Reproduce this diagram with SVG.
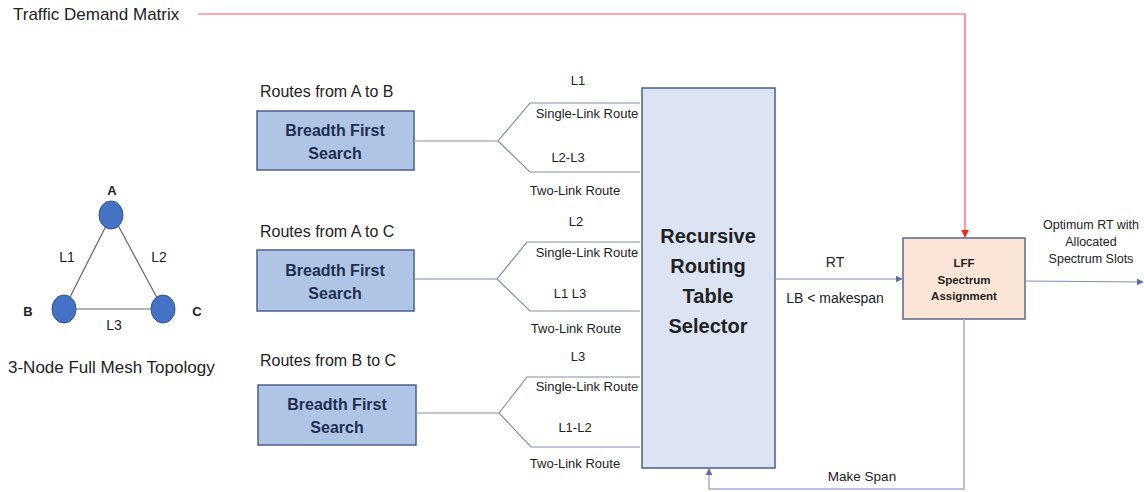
<svg xmlns="http://www.w3.org/2000/svg" width="1144" height="492" viewBox="0 0 1144 492">
<style>
text{font-family:"Liberation Sans",Arial,sans-serif;fill:#222}
.t15{font-size:16px}
.lbl{font-size:13px;text-anchor:middle}
.bfs{fill:#b0c4e6;stroke:#4a5f8c;stroke-width:1.5}
.bfst{font-size:16px;font-weight:bold;text-anchor:middle;fill:#1f2f4f}
.br{fill:none;stroke:#8090b0;stroke-width:1.2}
.node{fill:#4472c4;stroke:#2f5597;stroke-width:1}
.edge{stroke:#666;stroke-width:1.2}
</style>
<defs>
<marker id="ab" viewBox="0 0 10 10" refX="9" refY="5" markerWidth="7" markerHeight="7" orient="auto" markerUnits="userSpaceOnUse"><path d="M0,0L10,5L0,10z" fill="#5a6fa0"/></marker>
<marker id="ar" viewBox="0 0 10 10" refX="9" refY="5" markerWidth="8" markerHeight="8" orient="auto" markerUnits="userSpaceOnUse"><path d="M0,0L10,5L0,10z" fill="#ff2020"/></marker>
</defs>
<rect width="1144" height="492" fill="#fff"/>

<g id="traffic">
<text x="13" y="20" font-size="17">Traffic Demand Matrix</text>
</g>

<g id="topology">
<line x1="112" y1="214" x2="64" y2="309" class="edge"/>
<line x1="112" y1="214" x2="163" y2="309" class="edge"/>
<line x1="64" y1="309" x2="163" y2="309" class="edge"/>
<ellipse cx="111" cy="215" rx="12" ry="14" class="node"/>
<ellipse cx="64" cy="309" rx="12" ry="14" class="node"/>
<ellipse cx="163" cy="309" rx="12" ry="14" class="node"/>
<text x="112" y="195" font-size="13" font-weight="bold" text-anchor="middle">A</text>
<text x="28" y="316" font-size="13" font-weight="bold" text-anchor="middle">B</text>
<text x="197" y="316" font-size="13" font-weight="bold" text-anchor="middle">C</text>
<text x="67" y="262" font-size="14" text-anchor="middle">L1</text>
<text x="159" y="262" font-size="14" text-anchor="middle">L2</text>
<text x="114" y="330" font-size="14" text-anchor="middle">L3</text>
<text x="8" y="373" font-size="17">3-Node Full Mesh Topology</text>
</g>

<g id="bfs1">
<text x="260" y="97" class="t15">Routes from A to B</text>
<rect x="257" y="111" width="157" height="59" class="bfs"/>
<text x="335" y="136" class="bfst">Breadth First</text>
<text x="335" y="159" class="bfst">Search</text>
</g>
<g id="bfs2">
<text x="260" y="237" class="t15">Routes from A to C</text>
<rect x="257" y="250" width="157" height="61" class="bfs"/>
<text x="335" y="276" class="bfst">Breadth First</text>
<text x="335" y="299" class="bfst">Search</text>
</g>
<g id="bfs3">
<text x="260" y="366" class="t15">Routes from B to C</text>
<rect x="258" y="385" width="158" height="60" class="bfs"/>
<text x="337" y="410" class="bfst">Breadth First</text>
<text x="337" y="433" class="bfst">Search</text>
</g>

<g id="rrts">
<rect x="642" y="88" width="133" height="380" fill="#dce4f4" stroke="#4a5f8c" stroke-width="1.5"/>
<text x="708" y="243" font-size="20" font-weight="bold" text-anchor="middle" fill="#111">Recursive</text>
<text x="708" y="273" font-size="20" font-weight="bold" text-anchor="middle" fill="#111">Routing</text>
<text x="708" y="303" font-size="20" font-weight="bold" text-anchor="middle" fill="#111">Table</text>
<text x="708" y="333" font-size="20" font-weight="bold" text-anchor="middle" fill="#111">Selector</text>
</g>

<g id="lff">
<rect x="903" y="238" width="122" height="81" fill="#fbe5d6" stroke="#5a6a8a" stroke-width="1.5"/>
<text x="964" y="267" font-size="11.5" font-weight="bold" text-anchor="middle">LFF</text>
<text x="964" y="284" font-size="11.5" font-weight="bold" text-anchor="middle">Spectrum</text>
<text x="964" y="300" font-size="11.5" font-weight="bold" text-anchor="middle">Assignment</text>
</g>

<g id="connectors">
<polyline points="414,141 498,141 530,103 640,103" class="br"/>
<polyline points="498,141 530,172 640,172" class="br"/>
<polyline points="414,279 497,279 527,242 640,242" class="br"/>
<polyline points="497,279 530,311 640,311" class="br"/>
<polyline points="416,413 499,413 527,377 640,377" class="br"/>
<polyline points="499,413 531,447 640,447" class="br"/>
<line x1="775" y1="279" x2="902" y2="279" stroke="#7f8fb5" stroke-width="1.2" marker-end="url(#ab)"/>
<line x1="1025" y1="281" x2="1143" y2="282" stroke="#7f8fb5" stroke-width="1.2" marker-end="url(#ab)"/>
<polyline points="964,319 964,489 709,489 709,469" fill="none" stroke="#a8acd8" stroke-width="1.5" marker-end="url(#ab)"/>
<polyline points="198,14 965,14 965,237" fill="none" stroke="#ff4d6a" stroke-width="1.2" marker-end="url(#ar)"/>

<text x="578" y="85" class="lbl">L1</text>
<text x="587" y="118" class="lbl">Single-Link Route</text>
<text x="568" y="162" class="lbl">L2-L3</text>
<text x="575" y="195" class="lbl">Two-Link Route</text>
<text x="576" y="226" class="lbl">L2</text>
<text x="587" y="257" class="lbl">Single-Link Route</text>
<text x="570" y="298" class="lbl">L1 L3</text>
<text x="576" y="333" class="lbl">Two-Link Route</text>
<text x="578" y="361" class="lbl">L3</text>
<text x="587" y="391" class="lbl">Single-Link Route</text>
<text x="575" y="432" class="lbl">L1-L2</text>
<text x="575" y="468" class="lbl">Two-Link Route</text>
<text x="835" y="267" font-size="14" text-anchor="middle">RT</text>
<text x="835" y="303" font-size="14" text-anchor="middle">LB &lt;  makespan</text>
<text x="862" y="481" font-size="13.5" text-anchor="middle">Make Span</text>
<text x="1091" y="229" font-size="12.5" text-anchor="middle">Optimum RT with</text>
<text x="1091" y="246" font-size="12.5" text-anchor="middle">Allocated</text>
<text x="1091" y="263" font-size="12.5" text-anchor="middle">Spectrum Slots</text>
</g>
</svg>
